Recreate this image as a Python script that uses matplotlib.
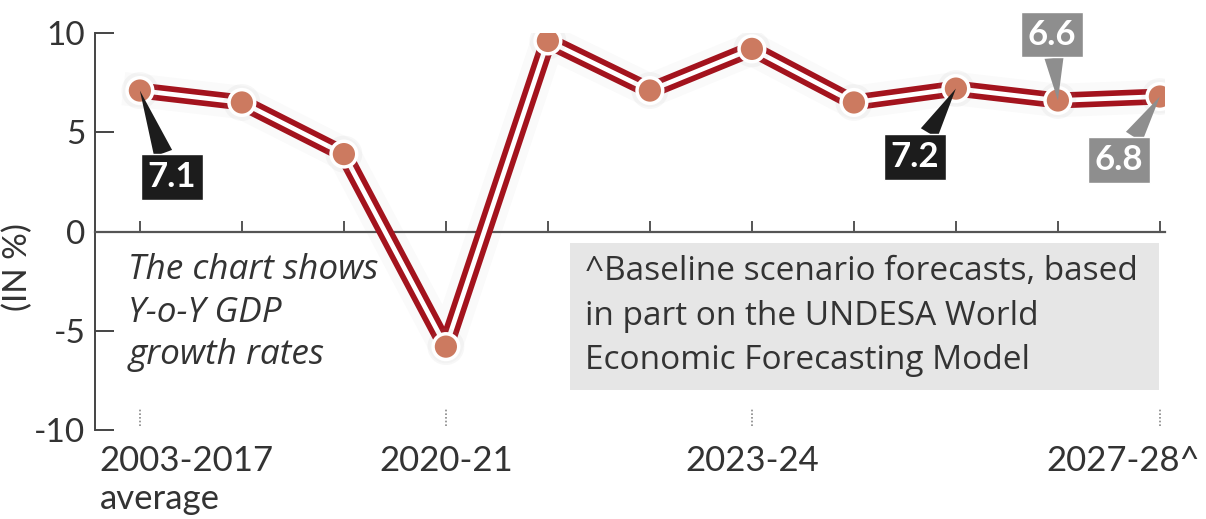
import matplotlib.pyplot as plt
import matplotlib.patheffects as pe
from matplotlib.patches import Rectangle
import matplotlib.transforms as mtransforms

plt.rcParams['font.family'] = ['Lato', 'DejaVu Sans']

# data
periods = ['2003-2017\naverage', '2018-19', '2019-20', '2020-21', '2021-22', '2022-23',
           '2023-24', '2024-25', '2025-26', '2026-27', '2027-28^']
growth = [7.1, 6.5, 3.9, -5.8, 9.6, 7.1, 9.2, 6.5, 7.2, 6.6, 6.8]
shown_ticks = [0, 3, 6, 10]
callout_idx = [0, 8, 9, 10]
callout_txt = ['7.1', '7.2', '6.6', '6.8']
yticks = [-10, -5, 0, 5, 10]

fig = plt.figure(figsize=(12.06, 5.19), dpi=100)
ax = fig.add_axes([95 / 1206, 1 - 430 / 519, 1070 / 1206, 397 / 519])

x = list(range(len(growth)))
ax.plot(x, growth, color='#a3131d', lw=11.5, zorder=3, solid_joinstyle='round',
        path_effects=[pe.Stroke(linewidth=24, foreground='#888888', alpha=0.04), pe.Normal()])
ax.plot(x, growth, color='white', lw=3.4, zorder=4, solid_joinstyle='round')
ax.plot(x, growth, 'o', ms=18.5, mfc='#cc7a60', mec='white', mew=2.5, zorder=5,
        path_effects=[pe.Stroke(linewidth=8, foreground='#999999', alpha=0.08), pe.Normal()])

ax.set_xlim(-0.44, 10.05)
ax.set_ylim(-10, 10)

for s in ['top', 'right']:
    ax.spines[s].set_visible(False)
ax.spines['bottom'].set_position(('data', 0))
ax.spines['bottom'].set_color('#555555')
ax.spines['bottom'].set_linewidth(1.6)
ax.spines['left'].set_color('#444444')
ax.spines['left'].set_linewidth(1.4)

ax.set_xticks(x)
ax.set_xticklabels([''] * len(x))
ax.tick_params(axis='x', direction='in', length=8, width=1.4, color='#555555')
ax.set_yticks(yticks)
ax.set_yticklabels([str(t) for t in yticks])
ax.tick_params(axis='y', direction='in', length=14, width=1.4, color='#444444',
               labelsize=24, labelcolor='#333333', pad=7)

ax.set_ylabel('(IN %)', fontsize=24, color='#333333')
ax.yaxis.set_label_coords(-0.058, 0.41)

# bottom period labels with dotted ticks
trans = mtransforms.blended_transform_factory(ax.transData, ax.transAxes)
has = {0: ('left', -29), 3: ('center', 0), 6: ('center', 0), 10: ('right', 29)}
for i in shown_ticks:
    ha, dx = has[i]
    ax.plot([i, i], [0.01, 0.055], transform=trans, color='#888888', lw=1.2,
            ls=(0, (1, 1.2)), clip_on=False)
    ax.annotate(periods[i], xy=(i, -0.038), xycoords=trans, xytext=(dx, 0),
                textcoords='offset points', ha=ha, va='top', fontsize=25,
                color='#333333', linespacing=1.22, annotation_clip=False)

# notes
ax.text(0.031, 0.445, 'The chart shows\nY-o-Y GDP\ngrowth rates', transform=ax.transAxes,
        ha='left', va='top', fontsize=25.3, style='italic', color='#333333',
        linespacing=1.33, family=['Open Sans', 'DejaVu Sans'])
ax.add_patch(Rectangle((0.444, 0.101), 0.55, 0.37, transform=ax.transAxes,
                       facecolor='#e6e6e6', edgecolor='none', zorder=0))
ax.text(0.458, 0.44, '^Baseline scenario forecasts, based\nin part on the UNDESA World\n'
        'Economic Forecasting Model', transform=ax.transAxes, ha='left', va='top',
        fontsize=24, color='#333333', linespacing=1.45, zorder=1,
        family=['Open Sans', 'DejaVu Sans'])

# value callouts
offs = {0: (23, -62), 8: (-29.5, -49), 9: (-4.3, 47.5), 10: (-29.5, -46)}
cols = {0: '#1c1c1c', 8: '#1c1c1c', 9: '#8e8e8e', 10: '#8e8e8e'}
for i, t in zip(callout_idx, callout_txt):
    ax.annotate(t, xy=(i, growth[i]), xytext=offs[i], textcoords='offset points',
                ha='center', va='center', fontsize=25, fontweight='bold', color='white',
                bbox=dict(boxstyle='square,pad=0.2', fc=cols[i], ec='white', lw=1),
                arrowprops=dict(arrowstyle='wedge,tail_width=0.55,shrink_factor=0.5',
                                fc=cols[i], ec='none', shrinkA=0, shrinkB=0),
                zorder=6, annotation_clip=False)

fig.savefig('out.png', dpi=100)
